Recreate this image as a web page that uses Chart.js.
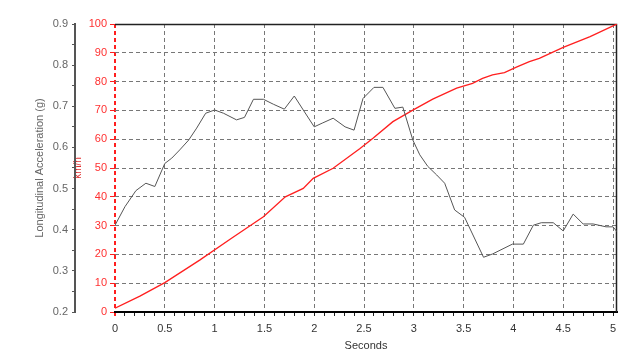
<!DOCTYPE html>
<html>
<head>
<meta charset="utf-8">
<script src="https://cdn.jsdelivr.net/npm/chart.js@4.4.1/dist/chart.umd.min.js"></script>
<style>
  html, body { margin: 0; padding: 0; background: #fff; }
  #wrap { width: 640px; height: 356px; }
</style>
</head>
<body>
<div id="wrap"><canvas id="chart" width="640" height="356"></canvas></div>
<script>
// ---------------------------- Data ----------------------------
// acceleration trace (seconds -> g)
const accelTime = [0, 0.10, 0.21, 0.31, 0.40, 0.50, 0.57, 0.65, 0.74, 0.82, 0.91, 1.00, 1.09, 1.22, 1.30,
  1.39, 1.49, 1.59, 1.70, 1.80, 1.89, 2.00, 2.08, 2.19, 2.31, 2.40, 2.49, 2.60, 2.69, 2.81, 2.89,
  2.99, 3.06, 3.14, 3.23, 3.31, 3.41, 3.51, 3.70, 3.79, 3.99, 4.10, 4.20, 4.28, 4.40, 4.50, 4.60,
  4.70, 4.80, 4.93, 5.00, 5.04];
const accelG = [0.411, 0.456, 0.495, 0.513, 0.505, 0.561, 0.574, 0.594, 0.618, 0.647, 0.683, 0.691, 0.683, 0.667, 0.673,
  0.717, 0.717, 0.705, 0.693, 0.725, 0.691, 0.650, 0.659, 0.671, 0.650, 0.642, 0.719, 0.746, 0.746, 0.695, 0.698,
  0.618, 0.582, 0.554, 0.533, 0.513, 0.448, 0.430, 0.333, 0.341, 0.365, 0.365, 0.411, 0.417, 0.417, 0.397, 0.438,
  0.414, 0.414, 0.407, 0.407, 0.395];

// speed trace (seconds -> km/h)
const speedTime = [0, 0.25, 0.50, 0.85, 1.17, 1.49, 1.71, 1.89, 1.99, 2.19, 2.46, 2.59, 2.79, 2.99, 3.19,
  3.43, 3.59, 3.69, 3.79, 3.91, 4.03, 4.16, 4.26, 4.50, 4.77, 5.04];
const speedKmh = [1.3, 5.5, 10.2, 18.0, 25.6, 33.1, 40.0, 42.9, 46.4, 49.9, 56.8, 60.3, 66.1, 70.1, 73.9,
  77.7, 79.4, 81.1, 82.3, 83.1, 85.0, 86.9, 88.1, 91.9, 95.6, 100];

// axis ranges
const xRange = [0, 5.04];
const gRange = [0.2, 0.9];
const kmhRange = [0, 100];

const FONT = "'Liberation Sans', Arial, sans-serif";
const near = (v, step) => Math.abs(v / step - Math.round(v / step)) < 1e-6;

// frame round the plot (top + right edges)
const framePlugin = {
  id: "frame",
  beforeDatasetsDraw(chart) {
    const a = chart.chartArea, ctx = chart.ctx;
    ctx.save();
    ctx.strokeStyle = "#222";
    ctx.lineWidth = 1.5;
    ctx.beginPath();
    ctx.moveTo(a.left, a.top + 0.5);
    ctx.lineTo(a.right - 0.5, a.top + 0.5);
    ctx.lineTo(a.right - 0.5, a.bottom);
    ctx.stroke();
    ctx.restore();
  }
};

new Chart(document.getElementById("chart"), {
  type: "line",
  data: {
    datasets: [
      {
        label: "Longitudinal Acceleration",
        data: accelTime.map((t, i) => ({ x: t, y: accelG[i] })),
        yAxisID: "g",
        borderColor: "#555",
        borderWidth: 1,
        pointRadius: 0,
        tension: 0
      },
      {
        label: "Speed",
        data: speedTime.map((t, i) => ({ x: t, y: speedKmh[i] })),
        yAxisID: "kmh",
        borderColor: "#ff1f1f",
        borderWidth: 1.3,
        pointRadius: 0,
        tension: 0
      }
    ]
  },
  options: {
    responsive: false,
    animation: false,
    layout: { padding: { top: 24, right: 23, bottom: 0, left: 0 } },
    plugins: { legend: { display: false }, tooltip: { enabled: false } },
    scales: {
      x: {
        type: "linear",
        min: xRange[0],
        max: xRange[1],
        afterFit: s => { s.height = 44; },
        border: { color: "#000", width: 2, dash: [4, 3] },
        grid: {
          color: c => c.tick && near(c.tick.value, 0.5) ? (c.tick.value === 0 ? "#ff1f1f" : "#777") : "rgba(0,0,0,0)",
          lineWidth: c => c.tick && c.tick.value === 0 ? 2 : 1,
          tickColor: c => c.tick && c.tick.value === 0 ? "#ff1f1f" : "#222",
          tickLength: 4
        },
        ticks: {
          stepSize: 0.1,
          includeBounds: false,
          autoSkip: false,
          maxRotation: 0,
          padding: 6,
          color: "#333",
          font: { family: FONT, size: 11 },
          callback: v => near(v, 0.5) ? String(+v.toFixed(1)) : ""
        },
        title: { display: true, text: "Seconds", color: "#333", font: { family: FONT, size: 11 }, padding: { top: 0, bottom: 3 } }
      },
      kmh: {
        position: "left",
        weight: 0,
        min: kmhRange[0],
        max: kmhRange[1],
        afterFit: s => { s.width = 40; },
        border: { display: false, dash: [4, 3] },
        grid: {
          color: c => c.tick && c.tick.value > 0 && c.tick.value < 100 ? "#777" : "rgba(0,0,0,0)",
          tickColor: "#ff1f1f",
          tickLength: 5
        },
        ticks: {
          stepSize: 10,
          padding: 3,
          color: "#ff3030",
          font: { family: FONT, size: 11 }
        },
        title: { display: true, text: "km/h", color: "#e03030", font: { family: FONT, size: 10 }, padding: { top: -3, bottom: 0 } }
      },
      g: {
        position: "left",
        weight: 1,
        min: gRange[0],
        max: gRange[1],
        afterFit: s => { s.width = 75; },
        border: { color: "#555", width: 2 },
        grid: { drawOnChartArea: false, tickColor: "#555", tickLength: 3 },
        ticks: {
          stepSize: 0.05,
          autoSkip: false,
          padding: 4,
          color: "#666",
          font: { family: FONT, size: 11 },
          callback: v => near(v, 0.1) ? v.toFixed(1) : ""
        },
        title: { display: true, text: "Longitudinal Acceleration (g)", color: "#666", font: { family: FONT, size: 11 }, padding: { top: 33, bottom: 0 } }
      }
    }
  },
  plugins: [framePlugin]
});
</script>
</body>
</html>
